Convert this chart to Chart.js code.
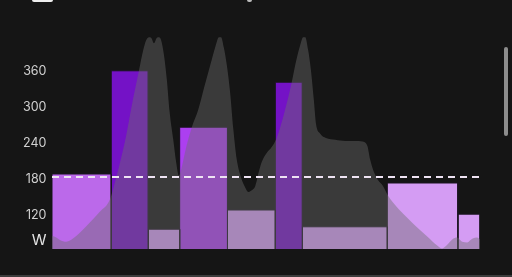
<!DOCTYPE html>
<html>
<head>
<meta charset="utf-8">
<script src="https://cdn.jsdelivr.net/npm/chart.js@4"></script>
<style>
  html, body { margin: 0; padding: 0; background: #151515; overflow: hidden; }
  .wrap { position: relative; width: 512px; height: 277px; }
  .top-icon { position: absolute; left: 32px; top: 0; width: 21px; height: 2px; background: #eee; border-radius: 0 0 2px 2px; }
  .top-dot { position: absolute; left: 247px; top: 0; width: 5px; height: 2px; background: #bbb; border-radius: 0 0 2px 2px; }
  .scroll { position: absolute; left: 504px; top: 47px; width: 4px; height: 89px; background: #8d8d8d; border-radius: 2px; }
  .bottom-strip { position: absolute; left: 0; top: 275px; width: 512px; height: 2px; background: #3c3c3c; }
</style>
</head>
<body>
<div class="wrap">
  <canvas id="power-chart" width="512" height="277"></canvas>
  <div class="top-icon"></div>
  <div class="top-dot"></div>
  <div class="scroll"></div>
  <div class="bottom-strip"></div>
</div>
<script>
// ── Workout data (minutes / watts) ───────────────────────────
const intervalStart = [0, 8.3, 13.5, 17.9, 24.6, 31.3, 35.1, 47.0, 56.9];
const intervalEnd   = [8.3, 13.5, 17.9, 24.6, 31.3, 35.1, 47.0, 56.9, 60];
const targetPower   = [188, 360, 96, 266, 128, 341, 100, 173, 121];
const intervalZone  = [2, 4, 1, 3, 1, 4, 1, 1, 1];
const ftp = 183;

// actual ride power (smoothed)
const rideTime = [
  0, 0.6, 1.1, 2.0, 2.5, 2.9, 3.9, 5.3, 6.7, 8.1, 9.0, 9.7, 10.4, 11.2, 12.2, 12.8,
  13.2, 13.6, 13.9, 14.3, 14.7, 15.0, 15.3, 15.7, 16.1, 16.5, 17.0, 17.4, 17.8, 18.1,
  18.8, 19.6, 20.5, 21.3, 22.2, 22.9, 23.4, 23.7, 24.1, 24.5, 25.0, 25.4, 25.9, 26.5,
  27.1, 27.5, 27.9, 28.5, 29.0, 29.4, 30.1, 30.8, 31.5, 32.5, 33.5, 34.2, 34.8, 35.2,
  35.5, 35.9, 36.3, 36.7, 37.0, 37.6, 38.4, 39.7, 41.1, 42.5, 43.5, 44.2, 44.6, 45.1,
  45.7, 46.4, 47.1, 48.4, 49.8, 51.2, 52.6, 54.0, 54.7, 55.4, 56.1, 56.8, 57.5, 58.2,
  58.9, 59.6, 60
];
const ridePower = [
  85, 82, 78, 75, 77, 80, 90, 107, 125, 145, 182, 215, 252, 303, 361, 395,
  411, 416, 415, 406, 415, 416, 411, 386, 345, 290, 245, 208, 185, 195,
  232, 266, 295, 331, 370, 400, 416, 416, 398, 370, 320, 265, 212, 182,
  165, 158, 160, 168, 192, 208, 223, 233, 248, 287, 335, 375, 403, 416,
  416, 395, 361, 312, 272, 255, 248, 245, 243, 243, 242, 235, 212, 192,
  178, 168, 152, 132, 115, 99, 84, 69, 64, 70, 79, 82, 75, 74,
  80, 82, 79
];

// ── Axis ─────────────────────────────────────────────────────
const powerTicks = [120, 180, 240, 300, 360];
const unitLabel = 'W';
const unitTick = 78;
const yMin = 63, yMax = 428;

const ZONE_COLORS = { 1: '#d49cf3', 2: '#bb69ea', 3: '#ac3ff0', 4: '#7412c6' };

// ── Build datasets ───────────────────────────────────────────
const intervalSets = targetPower.map((p, i) => ({
  data: [
    { x: intervalStart[i], y: yMin },
    { x: intervalStart[i], y: p },
    { x: intervalEnd[i],   y: p },
    { x: intervalEnd[i],   y: yMin },
  ],
  backgroundColor: ZONE_COLORS[intervalZone[i]],
  borderColor: '#1b1420',
  borderWidth: 1,
  fill: 'start',
  pointRadius: 0,
  order: 2,
}));

new Chart(document.getElementById('power-chart'), {
  type: 'line',
  data: {
    datasets: [
      {
        data: [{ x: 0, y: ftp }, { x: 60, y: ftp }],
        borderColor: '#eee3f3',
        borderWidth: 2,
        borderDash: [7, 5],
        pointRadius: 0,
        fill: false,
        order: 0,
      },
      {
        data: rideTime.map((t, i) => ({ x: t, y: ridePower[i] })),
        backgroundColor: 'rgba(110,110,110,0.43)',
        borderWidth: 0,
        pointRadius: 0,
        fill: 'start',
        cubicInterpolationMode: 'monotone',
        order: 1,
      },
      ...intervalSets,
    ]
  },
  options: {
    responsive: false,
    animation: false,
    layout: { padding: { top: 30, bottom: 28, right: 32, left: 0 } },
    plugins: { legend: { display: false }, tooltip: { enabled: false } },
    scales: {
      x: { type: 'linear', min: 0, max: 60, display: false },
      y: {
        min: yMin, max: yMax,
        grid: { display: false, drawTicks: false },
        border: { display: false },
        afterFit: s => { s.width = 52; },
        afterBuildTicks: s => {
          s.ticks = [unitTick, ...powerTicks].map(v => ({ value: v }));
        },
        ticks: {
          padding: 5.5,
          color: ctx => ctx.tick && ctx.tick.value === unitTick ? '#e4e4e4' : '#d0d0d0',
          font: ctx => ({
            family: 'Inter, "Open Sans", sans-serif',
            size: ctx.tick && ctx.tick.value === unitTick ? 15 : 12.5,
          }),
          callback: v => v === unitTick ? unitLabel : v,
        }
      }
    }
  }
});
</script>
</body>
</html>
